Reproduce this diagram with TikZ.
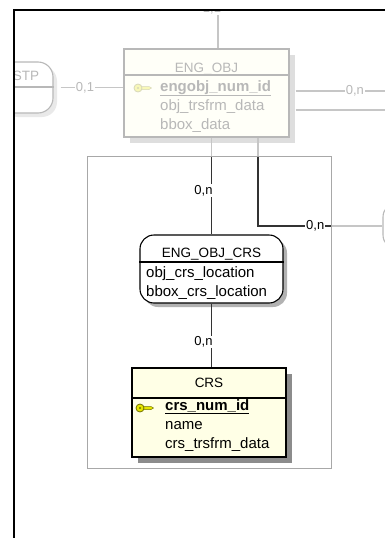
\documentclass[tikz,border=0pt]{standalone}
\usepackage{fontspec}
\setmainfont{Liberation Sans}
\usetikzlibrary{positioning, calc, shadows}
\definecolor{entfill}{HTML}{FFFFE6}
\definecolor{keyfill}{HTML}{E6E600}
\definecolor{keyline}{HTML}{707000}
\definecolor{linkgray}{HTML}{333333}
\definecolor{areagray}{HTML}{A8A8A8}

% primary key glyph, at x,y
\newcommand{\pkkey}[2]{%
  \fill[keyfill, draw=keyline, line width=0.5pt] (#1+3,#2-1.5) -- (#1+11,#2-1.5) -- (#1+13.5,#2) -- (#1+11,#2+1.5) -- (#1+3,#2+1.5) -- cycle;
  \filldraw[fill=keyfill, draw=keyline, line width=0.8pt] (#1,#2) circle (4);
  \fill[keyline] (#1,#2) circle (1.2);
}

\begin{document}
\begin{tikzpicture}[x=1pt, y=-1pt,
  entity/.style={rectangle, draw=black, line width=1.1pt, fill=entfill, drop shadow={shadow xshift=6pt, shadow yshift=-6pt, fill=black!45, opacity=1}},
  assoc/.style={rectangle, rounded corners=14pt, draw=black, line width=1.1pt, fill=white, drop shadow={shadow xshift=4pt, shadow yshift=-4pt, fill=black!30, opacity=1}},
  title/.style={font=\fontsize{13.5}{16}\selectfont, inner sep=0pt, anchor=base},
  attr/.style={font=\fontsize{15}{18}\selectfont, inner sep=0pt, anchor=base west},
  link/.style={draw=linkgray, line width=1.1pt},
  card/.style={fill=white, inner sep=1pt, font=\fontsize{13}{15}\selectfont}
]
\useasboundingbox (0,0) rectangle (385,538);

\begin{scope}
\clip (14,10) rectangle (385,538);

% context entities
\node[assoc, rounded corners=15pt, minimum width=54pt, minimum height=51pt] (stp) at (26,87.5) {};
\node[title] (stp-t) at (26,80) {STP};
\draw[line width=1.1pt] (stp.west |- 0,87) -- (stp.east |- 0,87);

\node[entity, minimum width=165pt, minimum height=88pt] (engobj) at (206.5,93) {};
\node[title] (engobj-t) at (206.5,72) {ENG\_OBJ};
\draw[line width=1.1pt] (engobj.west |- 0,75) -- (engobj.east |- 0,75);
\pkkey{138}{88}
\node[attr] (engobj-pk) at (160,91) {\underline{\textbf{engobj\_num\_id}}};
\node[attr] (engobj-a1) at (160,110) {obj\_trsfrm\_data};
\node[attr] (engobj-a2) at (160,129) {bbox\_data};

\node[assoc, minimum width=74pt, minimum height=46pt] (rhs) at (420,226) {};

% selected part
\node[assoc, minimum width=143pt, minimum height=68pt] (engcrs) at (211.5,269) {};
\node[title] (engcrs-t) at (211.5,257) {ENG\_OBJ\_CRS};
\draw[line width=1.1pt] (engcrs.west |- 0,262) -- (engcrs.east |- 0,262);
\node[attr] (engcrs-a1) at (146,277) {obj\_crs\_location};
\node[attr] (engcrs-a2) at (146,296) {bbox\_crs\_location};

\node[entity, minimum width=154pt, minimum height=89pt] (crs) at (209,412.5) {};
\node[title] (crs-t) at (209,387) {CRS};
\draw[line width=1.1pt] (crs.west |- 0,398) -- (crs.east |- 0,398);
\pkkey{140}{408}
\node[attr] (crs-pk) at (165,410) {\underline{\textbf{crs\_num\_id}}};
\node[attr] (crs-a1) at (165,429) {name};
\node[attr] (crs-a2) at (165,448) {crs\_trsfrm\_data};

% links
\coordinate (up) at (218,0);
\coordinate (out1) at (390,91);
\coordinate (out2) at (390,110);
\coordinate (branch) at (258,0);
\draw[link] (engobj.north -| up) -- node[card, pos=0.82, xshift=-6pt] {1,1} (up);
\draw[link, shorten <=7pt] (stp.east) -- node[card, pos=0.45] {0,1} (engobj.west |- stp.east);
\draw[link, shorten <=6pt] (engobj.east |- out1) -- node[card, pos=0.65] {0,n} (out1);
\draw[link, shorten <=6pt] (engobj.east |- out2) -- (out2);
\draw[link] (engobj.south -| engcrs.north) -- node[card, pos=0.55, xshift=-8pt] {0,n} (engcrs.north);
\draw[link] (engobj.south -| branch) |- node[card, pos=0.73] {0,n} (rhs.west);
\draw[link] (engcrs.south) -- node[card, pos=0.6, xshift=-8pt] {0,n} (engcrs.south |- crs.north);

% fade everything outside the selection
\fill[white, fill opacity=0.72, even odd rule] (0,0) rectangle (385,538) (87,156) rectangle (331,468);
\draw[areagray, line width=1pt] (87,156) rectangle (331,468);
\end{scope}

\draw[line width=2pt] (14,538) -- (14,10) -- (385,10);
\end{tikzpicture}
\end{document}
